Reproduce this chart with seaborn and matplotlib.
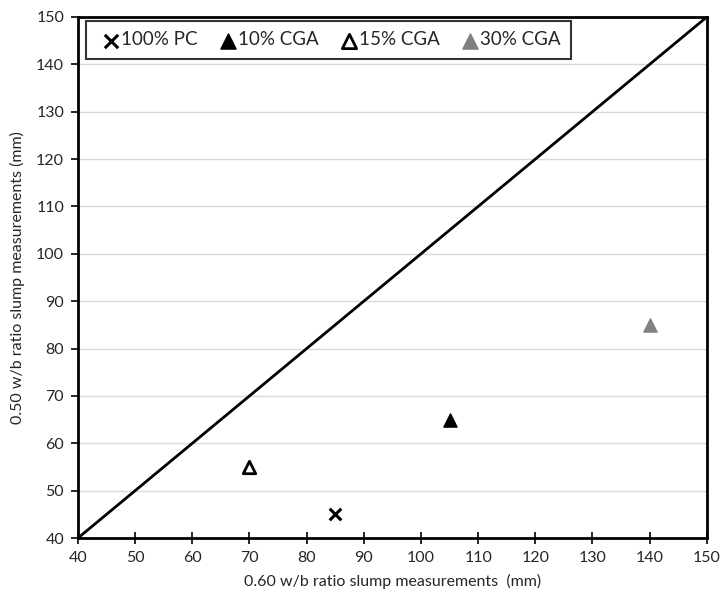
import matplotlib
matplotlib.use("Agg")
import matplotlib.pyplot as plt
import seaborn as sns
import pandas as pd

series = ["100% PC", "10% CGA", "15% CGA", "30% CGA"]
x_vals = [85, 105, 70, 140]
y_vals = [45, 65, 55, 85]
line_x = [40, 150]
line_y = [40, 150]
ticks = list(range(40, 151, 10))

df = pd.DataFrame({"series": series, "x": x_vals, "y": y_vals})

sns.set_theme(style="white")
plt.rcParams['font.family'] = ['Lato', 'DejaVu Sans']

fig = plt.figure(figsize=(7.22, 5.98), dpi=100)
ax = fig.add_axes([0.108, 0.1003, 0.871, 0.8713])

styles = {
    "100% PC": dict(marker="x", color="black", edgecolor="black", s=70, linewidth=2.2),
    "10% CGA": dict(marker="^", color="black", edgecolor="black", s=90, linewidth=1),
    "15% CGA": dict(marker="^", color="white", edgecolor="black", s=80, linewidth=2),
    "30% CGA": dict(marker="^", color="#808080", edgecolor="#808080", s=90, linewidth=1),
}

sns.lineplot(x=line_x, y=line_y, ax=ax, color="black", linewidth=2, legend=False)

for name in series:
    sub = df[df["series"] == name]
    st = styles[name]
    if st["marker"] == "x":
        sns.scatterplot(data=sub, x="x", y="y", ax=ax, marker="x", color=st["color"],
                        s=st["s"], linewidth=st["linewidth"], label=name, zorder=5)
    else:
        sns.scatterplot(data=sub, x="x", y="y", ax=ax, marker="^", color=st["color"],
                        edgecolor=st["edgecolor"], s=st["s"], linewidth=st["linewidth"],
                        label=name, zorder=5)

ax.set_xlim(40, 150)
ax.set_ylim(40, 150)
ax.set_xticks(ticks)
ax.set_yticks(ticks)
ax.yaxis.grid(True, color="#d9d9d9", linewidth=1)
ax.xaxis.grid(False)
ax.set_axisbelow(True)
for sp in ax.spines.values():
    sp.set_color("black")
    sp.set_linewidth(2)
ax.tick_params(axis="x", direction="inout", length=9, width=1.2, color="black", labelsize=11.5, pad=5)
ax.tick_params(axis="y", direction="out", length=5, width=1.2, color="black", labelsize=11.5, pad=5, left=True)
ax.tick_params(axis="x", bottom=True)
ax.set_xlabel("0.60 w/b ratio slump measurements  (mm)", fontsize=11.5, labelpad=6)
ax.set_ylabel("0.50 w/b ratio slump measurements (mm)", fontsize=11.5, labelpad=8)

leg = ax.legend(loc="upper left", ncol=4, frameon=True, fontsize=13.5, handletextpad=-0.25,
                columnspacing=0.8, borderpad=0.55, handlelength=1.6, borderaxespad=0.0,
                bbox_to_anchor=(0.012, 0.992), fancybox=False, markerscale=1.15)
leg.get_frame().set_edgecolor("black")
leg.get_frame().set_linewidth(1.5)

fig.savefig("out.png", dpi=100)
